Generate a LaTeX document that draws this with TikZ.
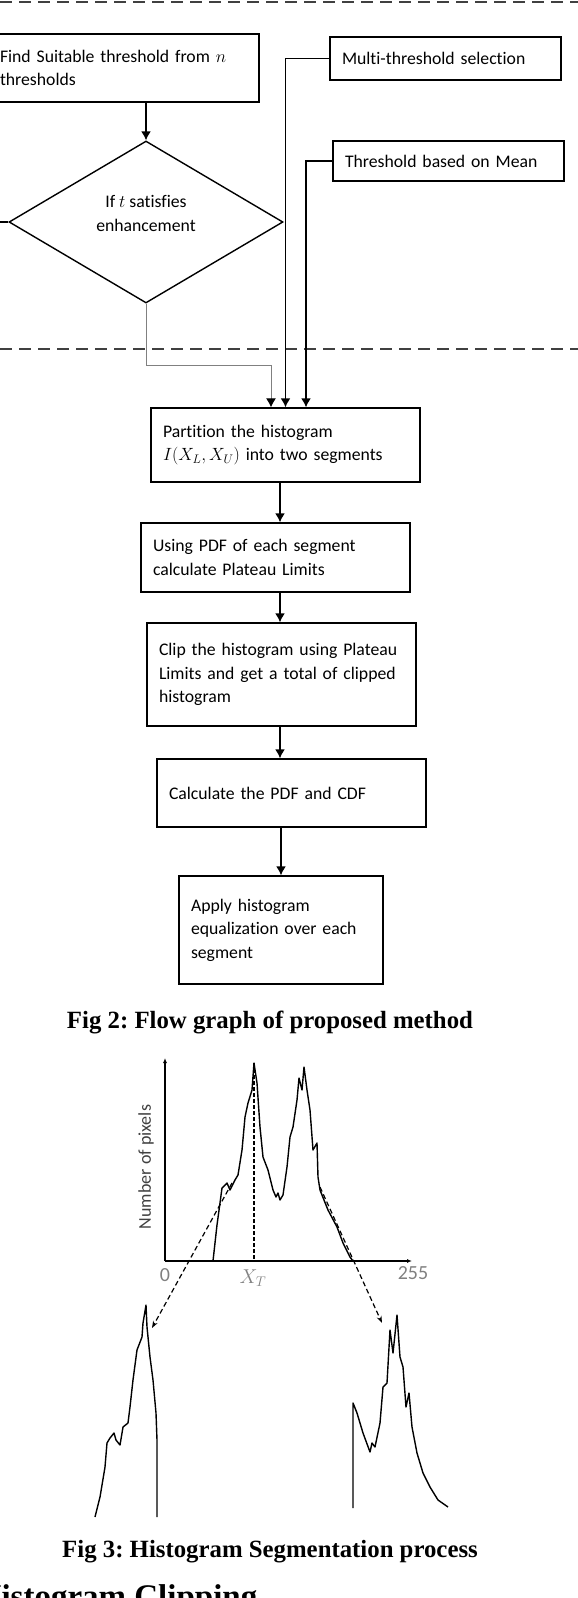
\documentclass[tikz,border=0pt]{standalone}
\usepackage{fix-cm}
\usepackage{fontspec}
\setmainfont{Carlito}[Ligatures=NoCommon]
\newfontfamily\capfont{Liberation Serif}
\usetikzlibrary{shapes.geometric,arrows.meta}
\newcommand{\boxfont}{\fontsize{17.7}{23.5}\selectfont}
\frenchspacing
\begin{document}
\begin{tikzpicture}[x=1pt, y=-1pt,
  >={Latex[length=9pt,width=10pt]},
  every path/.style={line width=1.4pt},
  box/.style={draw, inner xsep=12pt, inner ysep=0pt, align=left, font=\boxfont},
  decision/.style={draw, shape=diamond, inner sep=0pt, align=center, font=\boxfont},
  sep/.style={dash pattern=on 12pt off 7pt, black!75},
  axis/.style={line width=1.2pt, -{Latex[length=5pt,width=4pt]}},
  axlabel/.style={text=gray, inner sep=0pt, font=\fontsize{20}{22}\selectfont},
  hist/.style={line width=1.4pt, line join=round},
  guide/.style={dash pattern=on 5pt off 3pt, line width=1.2pt, -{Stealth[length=7pt,width=5pt]}},
  caption/.style={font=\capfont\bfseries\fontsize{24.8}{30}\selectfont, inner sep=0pt}
]
\useasboundingbox (0,0) rectangle (578,1598);

% dashed separators
\draw[sep] (0,2) -- (578,2);
\draw[sep] (0,349) -- (578,349);

% threshold selection
\node at (123.5,68)[box, text width=247pt, minimum height=68pt](FT){Find Suitable threshold from $n$\\thresholds};
\node at (445.5,58.5)[box, text width=207pt, minimum height=43pt](MS){Multi-threshold selection};
\node at (448.5,161)[box, text width=207pt, minimum height=40pt](TM){Threshold based on Mean};
\node at (146,222)[decision, minimum width=274pt, minimum height=162pt, text depth=17pt](DE){If $t$ satisfies\\enhancement};

% processing steps
\node at (285.5,445)[box, text width=245pt, minimum height=74pt](PH){Partition the histogram\\$I(X_L,X_U)$ into two segments};
\node at (275.5,557.5)[box, text width=245pt, minimum height=69pt](UP){Using PDF of each segment\\calculate Plateau Limits};
\node at (281.5,674.5)[box, text width=245pt, minimum height=103pt](CH){Clip the histogram using Plateau\\Limits and get a total of clipped\\histogram};
\node at (291.5,793)[box, text width=245pt, minimum height=68pt](CP){Calculate the PDF and CDF};
\node at (281,930)[box, text width=180pt, minimum height=108pt](AE){Apply histogram\\equalization over each\\segment};

\coordinate (col) at (280,0);
\coordinate (L) at (-5,222);

\draw[->] (FT.south -| DE.north) -- (DE.north);
\draw (DE.west) -- (L);
\draw[gray, line width=1pt, -{Latex[length=9pt,width=10pt,color=black]}] (DE.south) -- ++(0,62) -| ([xshift=-14.5pt]PH.north);
\draw[->] (MS.west) -| (PH.north);
\draw[->] (TM.west) -| ([xshift=20.5pt]PH.north);

\draw[->] (PH.south -| col) -- (UP.north -| col);
\draw[->] (UP.south -| col) -- (CH.north -| col);
\draw[->] (CH.south -| col) -- (CP.north -| col);
\draw[->] (CP.south -| AE.north) -- (AE.north);

\node at (270,1028)[caption, anchor=base](F2){Fig 2: Flow graph of proposed method};

% histogram
\coordinate (O) at (165,1261);
\coordinate (XA) at (412,1261);
\coordinate (YA) at (165,1058);
\draw[axis] (O) -- (XA);
\draw[axis] (O) -- (YA);
\node at (165,1275)[axlabel](zero){0};
\node at (413,1273)[axlabel](max){255};
\node at (253,1278)[axlabel](XT){$X_T$};
\node at (146,1167)[rotate=90, inner sep=0pt, text=black!75, font=\fontsize{18}{20}\selectfont](NP){Number of pixels};

\draw[dash pattern=on 4pt off 2pt, line width=1.2pt] (254,1063) -- (254,1261);

\draw[hist] (213,1261) -- (217,1225) -- (220,1203) -- (222,1188) -- (227,1183) -- (230,1190) -- (235,1180) -- (238,1175) -- (242,1150) -- (245,1117) -- (248,1103) -- (252,1090) -- (254,1063) -- (257,1083) -- (260,1127) -- (263,1157) -- (268,1170) -- (273,1190) -- (276,1197) -- (278,1193) -- (280,1200) -- (283,1195) -- (287,1167) -- (290,1137) -- (293,1127) -- (297,1100) -- (299,1078) -- (302,1090) -- (304,1067) -- (307,1090) -- (310,1110) -- (313,1150) -- (317,1143) -- (318,1177) -- (320,1190) -- (328,1210) -- (337,1227) -- (343,1243) -- (350,1257) -- (353,1261);

% segments
\draw[hist] (95,1517) -- (100,1497) -- (105,1467) -- (107,1443) -- (110,1438) -- (114,1433) -- (116,1440) -- (120,1445) -- (123,1427) -- (128,1423) -- (130,1407) -- (133,1380) -- (137,1350) -- (142,1337) -- (143,1323) -- (146,1305) -- (147,1327) -- (150,1357) -- (153,1380) -- (156,1413) -- (157,1440) -- (157,1517);
\draw[hist] (353,1508) -- (353,1403) -- (357,1413) -- (363,1433) -- (370,1452) -- (372,1443) -- (375,1447) -- (380,1423) -- (383,1387) -- (387,1383) -- (390,1330) -- (393,1353) -- (397,1315) -- (400,1357) -- (403,1367) -- (406,1407) -- (409,1393) -- (412,1427) -- (417,1453) -- (423,1473) -- (430,1487) -- (438,1500) -- (448,1507);

\coordinate (GL1) at (232,1183);
\coordinate (GL2) at (152,1328);
\coordinate (GR1) at (320,1187);
\coordinate (GR2) at (382,1323);
\draw[guide] (GL1) -- (GL2);
\draw[guide] (GR1) -- (GR2);

\node at (270,1557)[caption, anchor=base](F3){Fig 3: Histogram Segmentation process};
\node at (258,1607)[anchor=base east, inner sep=0pt, font=\capfont\bfseries\fontsize{33}{40}\selectfont](HC){Histogram Clipping};
\end{tikzpicture}
\end{document}
